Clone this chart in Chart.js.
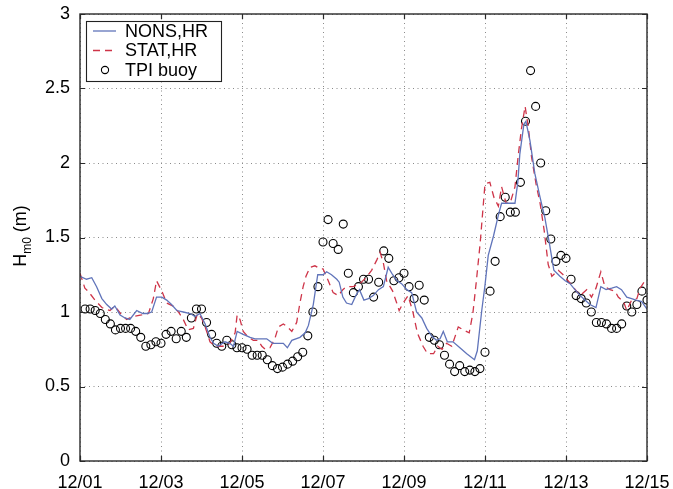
<!DOCTYPE html>
<html>
<head>
<meta charset="utf-8">
<script src="https://cdn.jsdelivr.net/npm/chart.js@4/dist/chart.umd.min.js"></script>
<style>
  html, body { margin: 0; padding: 0; background: #fff; }
  canvas { display: block; }
</style>
</head>
<body>
<canvas id="c" width="673" height="489"></canvas>
<script>
// ---- data (x in days since 12/01 00:00) ----
const dayLabels = ['12/01','12/03','12/05','12/07','12/09','12/11','12/13','12/15'];
const yTickLabels = ['0','0.5','1','1.5','2','2.5','3'];
const seriesNames = ['NONS,HR','STAT,HR','TPI buoy'];

const nonsTime = [0.0,0.16,0.29,0.41,0.54,0.66,0.78,0.86,0.99,1.11,1.23,1.4,1.55,1.66,1.77,1.89,2.02,2.14,2.26,2.39,2.55,2.72,2.84,2.96,3.09,3.21,3.3,3.41,3.58,3.7,3.79,3.88,4.03,4.2,4.32,4.49,4.61,4.76,4.9,5.02,5.12,5.23,5.43,5.56,5.64,5.76,5.87,6.0,6.09,6.21,6.34,6.4,6.49,6.58,6.71,6.81,6.9,7.01,7.12,7.24,7.37,7.49,7.61,7.72,7.83,7.94,8.07,8.19,8.31,8.44,8.56,8.68,8.8,8.89,8.97,9.07,9.21,9.38,9.55,9.74,9.81,9.92,10.0,10.08,10.21,10.33,10.41,10.55,10.74,10.81,10.86,10.96,11.01,11.11,11.23,11.36,11.48,11.59,11.7,11.85,11.98,12.1,12.22,12.35,12.47,12.59,12.74,12.86,12.99,13.13,13.25,13.37,13.5,13.62,13.73,13.87,14.0];
const nonsHs = [1.24,1.22,1.23,1.17,1.09,1.05,1.02,1.04,0.98,0.96,0.95,1.01,0.99,0.99,1.0,1.10,1.10,1.08,1.05,1.01,1.0,0.99,0.97,0.99,0.92,0.83,0.79,0.77,0.80,0.79,0.77,0.87,0.85,0.83,0.82,0.82,0.82,0.79,0.79,0.79,0.76,0.81,0.83,0.86,0.91,1.05,1.25,1.25,1.27,1.25,1.22,1.20,1.10,1.06,1.05,1.11,1.15,1.08,1.09,1.11,1.15,1.17,1.30,1.25,1.21,1.19,1.15,1.13,1.00,0.96,0.89,0.84,0.81,0.82,0.87,0.80,0.80,0.76,0.72,0.68,0.74,1.01,1.18,1.38,1.51,1.65,1.73,1.73,1.73,1.87,2.06,2.26,2.28,2.15,1.93,1.77,1.63,1.46,1.28,1.24,1.21,1.19,1.15,1.11,1.08,1.05,1.03,1.17,1.15,1.16,1.17,1.15,1.10,1.09,1.08,1.07,1.02];

const statTime = [0.0,0.12,0.2,0.37,0.54,0.74,0.86,1.0,1.15,1.31,1.52,1.69,1.81,1.89,2.02,2.14,2.3,2.43,2.55,2.67,2.8,2.9,3.0,3.09,3.21,3.33,3.46,3.58,3.7,3.83,3.88,3.95,4.03,4.16,4.28,4.4,4.49,4.57,4.69,4.81,4.9,5.02,5.12,5.23,5.35,5.43,5.51,5.58,5.68,5.8,5.93,6.0,6.13,6.25,6.38,6.49,6.58,6.75,6.91,7.06,7.2,7.33,7.41,7.49,7.57,7.72,7.82,7.88,7.98,8.1,8.22,8.33,8.47,8.58,8.73,8.83,8.94,9.05,9.18,9.34,9.46,9.61,9.7,9.78,9.88,10.0,10.12,10.22,10.33,10.41,10.52,10.62,10.74,10.82,10.9,10.99,11.07,11.15,11.26,11.36,11.46,11.56,11.65,11.81,11.93,12.05,12.17,12.35,12.51,12.63,12.74,12.86,12.96,13.09,13.21,13.29,13.42,13.5,13.62,13.75,13.83,13.95,14.0];
const statHs = [1.26,1.16,1.14,1.08,1.03,1.01,1.04,0.99,0.95,0.97,0.98,0.99,1.09,1.21,1.14,1.06,1.04,1.0,0.95,0.88,0.89,0.99,0.96,0.90,0.80,0.77,0.77,0.77,0.79,0.86,0.98,0.95,0.87,0.83,0.81,0.81,0.77,0.75,0.76,0.82,0.90,0.92,0.90,0.87,0.93,1.06,1.17,1.24,1.30,1.31,1.29,1.29,1.21,1.13,1.11,1.15,1.17,1.17,1.19,1.23,1.28,1.35,1.40,1.33,1.21,1.14,1.06,1.01,1.06,1.11,1.0,0.86,0.77,0.72,0.72,0.77,0.75,0.79,0.77,0.90,0.88,0.86,0.99,1.19,1.46,1.86,1.87,1.77,1.71,1.84,1.73,1.73,1.84,2.05,2.23,2.38,2.24,2.04,1.86,1.73,1.55,1.32,1.24,1.28,1.25,1.21,1.17,1.11,1.15,1.10,1.16,1.27,1.17,1.15,1.14,1.10,1.07,1.01,1.08,1.09,1.16,1.21,1.22];

// buoy observations, 3-hourly from 12/01 03:00 to 12/15 00:00
const buoyFirstDay = 0.125;
const buoyStepDay = 0.125;
const buoyHs = [1.02,1.02,1.01,0.99,0.95,0.92,0.88,0.89,0.89,0.89,0.87,0.83,0.77,0.78,0.80,0.79,0.85,0.87,0.82,0.87,0.83,0.96,1.02,1.02,
  0.93,0.85,0.79,0.77,0.81,0.78,0.76,0.76,0.75,0.71,0.71,0.71,0.68,0.64,0.62,0.63,0.65,0.67,0.70,0.73,0.84,1.00,1.17,1.47,
  1.62,1.46,1.42,1.59,1.26,1.13,1.17,1.22,1.22,1.10,1.20,1.41,1.36,1.21,1.23,1.26,1.17,1.09,1.18,1.08,0.83,0.81,0.78,0.71,
  0.65,0.60,0.64,0.60,0.61,0.60,0.62,0.73,1.14,1.34,1.64,1.77,1.67,1.67,1.87,2.28,2.62,2.38,2.00,1.68,1.49,1.34,1.38,1.36,
  1.22,1.11,1.09,1.06,1.00,0.93,0.93,0.92,0.89,0.89,0.92,1.04,1.00,1.05,1.14,1.08];

// ---- styling ----
const FONT = "'Liberation Sans', Arial, Helvetica, sans-serif";
const BLUE = 'rgb(96,116,186)';
const RED = 'rgb(206,52,72)';

const toXY = (t, v) => t.map((x, i) => ({ x: x, y: v[i] }));
const buoyPts = buoyHs.map((v, i) => ({ x: buoyFirstDay + i * buoyStepDay, y: v }));

const frame = {
  id: 'frame',
  afterDatasetsDraw(chart) {
    const { ctx, chartArea: a, scales } = chart;
    ctx.save();
    ctx.strokeStyle = '#2a2a2a';
    ctx.lineWidth = 1.2;
    ctx.setLineDash([]);
    const tl = 5;
    ctx.beginPath();
    scales.x.ticks.forEach(t => {
      const px = Math.round(scales.x.getPixelForValue(t.value)) + 0.5;
      ctx.moveTo(px, a.bottom); ctx.lineTo(px, a.bottom - tl);
      ctx.moveTo(px, a.top); ctx.lineTo(px, a.top + tl);
    });
    scales.y.ticks.forEach(t => {
      const py = Math.round(scales.y.getPixelForValue(t.value)) + 0.5;
      ctx.moveTo(a.left, py); ctx.lineTo(a.left + tl, py);
      ctx.moveTo(a.right, py); ctx.lineTo(a.right - tl, py);
    });
    ctx.stroke();
    ctx.lineWidth = 1.4;
    ctx.strokeRect(a.left, a.top, a.right - a.left, a.bottom - a.top);

    // legend
    const lx = 86.5, ly = 21.5, lw = 135, lh = 60;
    ctx.fillStyle = '#fff';
    ctx.fillRect(lx, ly, lw, lh);
    ctx.lineWidth = 1.1;
    ctx.strokeStyle = '#222';
    ctx.strokeRect(lx, ly, lw, lh);
    const rows = [31, 50.5, 70];
    ctx.font = '18px ' + FONT;
    ctx.fillStyle = '#000';
    ctx.textBaseline = 'middle';
    ctx.textAlign = 'left';
    ctx.strokeStyle = BLUE; ctx.lineWidth = 1.3; ctx.setLineDash([]);
    ctx.beginPath(); ctx.moveTo(93, rows[0]); ctx.lineTo(116, rows[0]); ctx.stroke();
    ctx.fillText(seriesNames[0], 125, rows[0] + 1);
    ctx.strokeStyle = RED; ctx.setLineDash([7, 5]);
    ctx.beginPath(); ctx.moveTo(93, rows[1]); ctx.lineTo(116, rows[1]); ctx.stroke();
    ctx.setLineDash([]);
    ctx.fillText(seriesNames[1], 125, rows[1] + 1);
    ctx.strokeStyle = '#000'; ctx.lineWidth = 1.1;
    ctx.beginPath(); ctx.arc(105, rows[2], 3.6, 0, Math.PI * 2); ctx.stroke();
    ctx.fillText(seriesNames[2], 125, rows[2] + 1);

    // y-axis title  H_m0 (m)
    ctx.save();
    const big = '18px ' + FONT, small = '12px ' + FONT;
    ctx.font = big; const wH = ctx.measureText('H').width; const wU = ctx.measureText(' (m)').width;
    ctx.font = small; const wS = ctx.measureText('m0').width;
    const total = wH + wS + wU;
    ctx.translate(26, 236 + total / 2);
    ctx.rotate(-Math.PI / 2);
    ctx.textBaseline = 'alphabetic';
    ctx.fillStyle = '#000';
    ctx.font = big; ctx.fillText('H', 0, 0);
    ctx.font = small; ctx.fillText('m0', wH, 5);
    ctx.font = big; ctx.fillText(' (m)', wH + wS, 0);
    ctx.restore();
    ctx.restore();
  }
};

new Chart(document.getElementById('c'), {
  type: 'scatter',
  data: {
    datasets: [
      { label: seriesNames[0], data: toXY(nonsTime, nonsHs), showLine: true, borderColor: BLUE, borderWidth: 1.3, pointRadius: 0, fill: false, tension: 0 },
      { label: seriesNames[1], data: toXY(statTime, statHs), showLine: true, borderColor: RED, borderWidth: 1.3, borderDash: [7, 5], pointRadius: 0, fill: false, tension: 0 },
      { label: seriesNames[2], data: buoyPts, showLine: false, pointStyle: 'circle', pointRadius: 4, pointBorderWidth: 1.1, pointBorderColor: '#000', pointBackgroundColor: 'rgba(0,0,0,0)' }
    ]
  },
  options: {
    responsive: false,
    animation: false,
    devicePixelRatio: 1,
    layout: { padding: { left: 0, right: 26, top: 14, bottom: 0 } },
    plugins: { legend: { display: false }, tooltip: { enabled: false } },
    scales: {
      x: {
        type: 'linear', min: 0, max: 14,
        afterFit(s) { s.height = 28; s.paddingLeft = 0; s.paddingRight = 0; },
        ticks: { stepSize: 2, autoSkip: false, maxRotation: 0, minRotation: 0, padding: 11, color: '#000', font: { family: FONT, size: 18 },
          callback: (v) => dayLabels[Math.round(v / 2)] },
        grid: { color: '#8a8a8a', lineWidth: 1, drawTicks: false },
        border: { display: false, dash: [1, 3.5] }
      },
      y: {
        type: 'linear', min: 0, max: 3,
        afterFit(s) { s.width = 80; s.paddingTop = 0; s.paddingBottom = 0; },
        ticks: { stepSize: 0.5, padding: 10, color: '#000', font: { family: FONT, size: 18 },
          callback: (v) => yTickLabels[Math.round(v * 2)] },
        grid: { color: '#8a8a8a', lineWidth: 1, drawTicks: false },
        border: { display: false, dash: [1, 3.5] }
      }
    }
  },
  plugins: [frame]
});
</script>
</body>
</html>
